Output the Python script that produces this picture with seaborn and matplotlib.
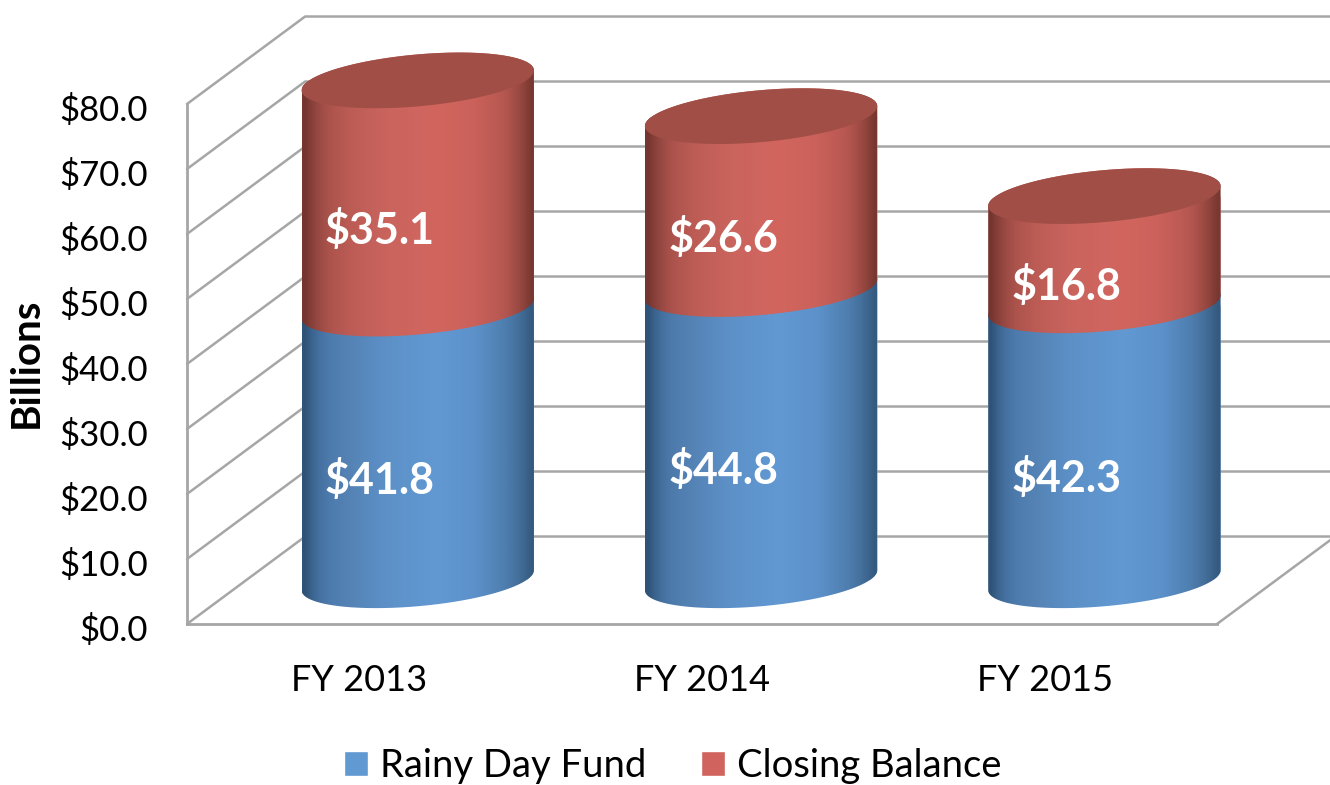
import numpy as np
import pandas as pd
import seaborn as sns
import matplotlib
matplotlib.use('Agg')
import matplotlib.pyplot as plt
from matplotlib.patches import Patch
from matplotlib.path import Path
from matplotlib.transforms import ScaledTranslation

# Data
years = ['FY 2013', 'FY 2014', 'FY 2015']
rainy_day = np.array([41.8, 44.8, 42.3])
closing_balance = np.array([35.1, 26.6, 16.8])
y_ticks = [0, 10, 20, 30, 40, 50, 60, 70, 80]

df = pd.DataFrame({'Year': years, 'Rainy': rainy_day, 'Closing': closing_balance})

sns.set_style('white')
plt.rcParams['font.family'] = ['Lato', 'DejaVu Sans']

W, H = 1330, 785
fig = plt.figure(figsize=(W / 100, H / 100), dpi=100)
ax = fig.add_axes([187 / W, 1 - 624 / H, (1217 - 187) / W, 520 / H])

# depth of the fake 3D box, data units
depth_x = 0.344
depth_y = 13.46
bar_w = 0.677
ell_b = 4.0    # half height of the cylinder ends
ell_s = 1.54   # tilt of the cylinder ends
grey = '#a6a6a6'
blue = '#6199d2'
red = '#d0635d'
top_red = '#a14f46'

# gradient across the cylinder
stops = [0, 0.04, 0.1, 0.2, 0.35, 0.58, 0.75, 0.88, 0.95, 1]
blue_stops = ['#2f5277', '#3f6a97', '#4c7aab', '#5583b6', '#5c90c7', '#6299d3',
              '#5c91ca', '#4f7fb0', '#426d98', '#355a80']
red_stops = ['#75352f', '#8f443e', '#ab524c', '#bc5c55', '#c9645d', '#d2665f',
             '#ca615a', '#b65751', '#974840', '#783831']


def make_gradient(colors, n=36):
    rgb = np.array([matplotlib.colors.to_rgb(c) for c in colors])
    pos = np.linspace(0, 1, n)
    return np.stack([np.interp(pos, stops, rgb[:, k]) for k in range(3)], axis=1)[None, :, :]


def end_curve(cx, cy, t):
    return cx + bar_w / 2 * np.cos(t), cy + ell_b * np.sin(t) + ell_s * np.cos(t)


def body_path(cx, y0, y1):
    tb = np.linspace(np.pi, 2 * np.pi, 60)
    tt = np.linspace(0, np.pi, 60)
    xb, yb = end_curve(cx, y0, tb)
    xt, yt = end_curve(cx, y1, tt)
    return Path(np.column_stack([np.r_[xb, xt], np.r_[yb, yt]]))


# walls
for v in y_ticks:
    ax.plot([-0.5, -0.5 + depth_x, 2.5 + depth_x], [v, v + depth_y, v + depth_y],
            color=grey, lw=1.8, clip_on=False, zorder=0.5)
ax.plot([2.5, 2.5 + depth_x], [0, depth_y], color=grey, lw=1.8, clip_on=False, zorder=0.5)

# bars
offset = depth_y / 2
sns.barplot(data=df, x='Year', y='Rainy', color=blue, width=bar_w, bottom=offset,
            saturation=1, ax=ax)
sns.barplot(data=df, x='Year', y='Closing', color=red, width=bar_w, bottom=rainy_day + offset,
            saturation=1, ax=ax)

blue_grad = make_gradient(blue_stops)
red_grad = make_gradient(red_stops)

for i, bar in enumerate(ax.patches):
    bar.set_x(bar.get_x() + depth_x / 2)
    cx = bar.get_x() + bar.get_width() / 2
    y0 = bar.get_y()
    y1 = y0 + bar.get_height()
    path = body_path(cx, y0, y1)
    grad = blue_grad if i < 3 else red_grad
    bar.set_clip_path(path, ax.transData)
    bar.set_clip_box(fig.bbox)
    im = ax.imshow(grad, extent=(bar.get_x(), bar.get_x() + bar.get_width(),
                                 y0 - ell_b - ell_s - 1, y1 + ell_b + ell_s + 1),
                   aspect='auto', interpolation='bilinear', zorder=3 + i * 0.1)
    im.set_clip_path(path, ax.transData)
    im.set_clip_box(fig.bbox)
    if i >= 3:
        t = np.linspace(0, 2 * np.pi, 120)
        ex, ey = end_curve(cx, y1, t)
        ax.fill(ex, ey, color=top_red, lw=0, clip_on=False, zorder=4)

# value labels
for i in range(3):
    mid_b = rainy_day[i] / 2 + 1.3
    mid_r = rainy_day[i] + closing_balance[i] / 2 + 1.3
    ax.text(i + 0.062, mid_b, f'${rainy_day[i]:.1f}', color='white', fontsize=31,
            fontweight='bold', ha='center', va='center', zorder=5)
    ax.text(i + 0.062, mid_r, f'${closing_balance[i]:.1f}', color='white', fontsize=31,
            fontweight='bold', ha='center', va='center', zorder=5)

ax.set_xlim(-0.5, 2.5)
ax.set_ylim(0, 80)
ax.set_yticks(y_ticks)
ax.set_yticklabels([f'${v:.1f}' for v in y_ticks])
ax.tick_params(axis='y', length=0, pad=28, labelsize=25, labelcolor='black')
ax.tick_params(axis='x', length=0, pad=29, labelsize=26, labelcolor='black')
for lab in ax.get_yticklabels():
    lab.set_transform(lab.get_transform() + ScaledTranslation(0, -3.5 / 100, fig.dpi_scale_trans))
ax.set_xlabel('')
ax.set_ylabel('Billions', fontsize=29, fontweight='bold', color='black')
ax.yaxis.set_label_coords(45 / W, 1 - 363 / H, transform=fig.transFigure)

for side in ['top', 'right']:
    ax.spines[side].set_visible(False)
for side in ['left', 'bottom']:
    ax.spines[side].set_color(grey)
    ax.spines[side].set_linewidth(2)
ax.patch.set_alpha(0)

handles = [Patch(facecolor=blue, label='Rainy Day Fund'), Patch(facecolor=red, label='Closing Balance')]
fig.legend(handles=handles, loc='center', bbox_to_anchor=(672.5 / W, 1 - 766 / H),
           ncol=2, frameon=False, fontsize=27.5, handlelength=0.63, handleheight=0.63,
           handletextpad=0.31, columnspacing=1.44, labelcolor='black', borderpad=0)

fig.savefig('out.png', dpi=100)
